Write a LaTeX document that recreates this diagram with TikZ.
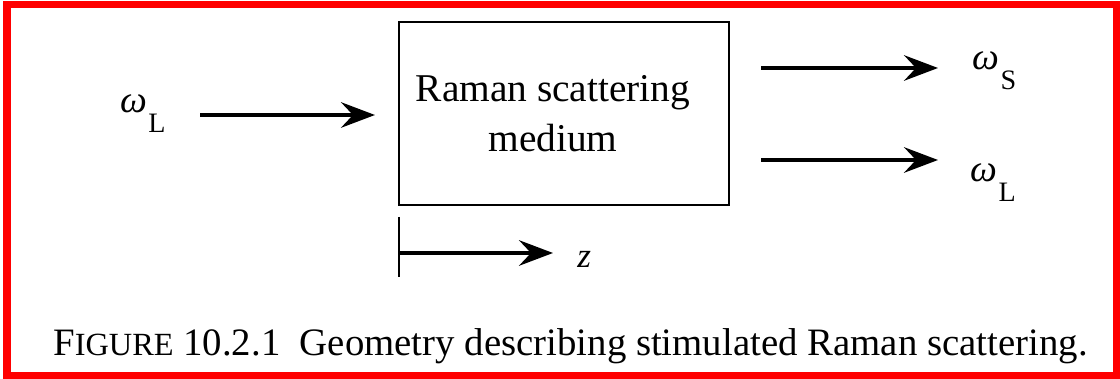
\documentclass[tikz,border=0pt]{standalone}
\usepackage{fontspec}
\setmainfont{Liberation Serif}
\usetikzlibrary{arrows.meta,positioning}
\definecolor{cFrame}{HTML}{FF0000}
\newcommand{\freq}[1]{\textit{ω}\hspace{1pt}\raisebox{-14pt}{\fontsize{20}{20}\selectfont #1}}

\begin{document}
\begin{tikzpicture}[
  x=0.025cm,y=-0.025cm,
  medbox/.style={draw,line width=1.4pt,minimum width=8.25cm,minimum height=4.575cm,inner sep=0pt},
  bodytxt/.style={font=\fontsize{28}{35.6}\selectfont,inner sep=0pt},
  freqlab/.style={font=\fontsize{27}{27}\selectfont,inner sep=0pt,anchor=base west},
  ray/.style={-{Stealth[length=0.85cm,width=0.64cm,inset=0.3cm]},line width=2.2pt},
  capfont/.style={font=\fontsize{27.6}{27.6}\selectfont,inner sep=0pt,anchor=base west}
]
\useasboundingbox (0,0) rectangle (1120,379);
\draw[cFrame,line width=5pt] (7,4.5) rectangle (1117,376);

\node[medbox] (medium) at (564,113.5) {};
\node[bodytxt,align=center,anchor=north] (mtxt) at (553,75) {Raman scattering\\medium};

\node[freqlab] (wLin) at (120,113) {\freq{L}};
\node[freqlab] (wS) at (972,70) {\freq{S}};
\node[freqlab] (wLout) at (970,182) {\freq{L}};

\coordinate (inTail) at (200,115);
\coordinate (sHead) at (938,68);
\coordinate (lHead) at (938,160);
\draw[ray,shorten >=0.575cm] (inTail) -- (inTail -| medium.west);
\draw[ray,shorten <=0.775cm] (sHead -| medium.east) -- (sHead);
\draw[ray,shorten <=0.775cm] (lHead -| medium.east) -- (lHead);

% axis along the medium
\coordinate (z0) at (399,253);
\node[font=\fontsize{25}{25}\selectfont\itshape,inner sep=0pt,anchor=base west] (zlab) at (577,268) {z};
\draw[line width=1.4pt] (z0) ++(0,-36) -- ++(0,60);
\draw[ray,shorten >=0.6cm] (z0) -- (z0 -| zlab.west);

\node[capfont] (cap) at (53,356)
  {F{\fontsize{23}{23}\selectfont IGURE} 10.2.1\hspace{0.5em}Geometry describing stimulated Raman scattering.};
\end{tikzpicture}
\end{document}
